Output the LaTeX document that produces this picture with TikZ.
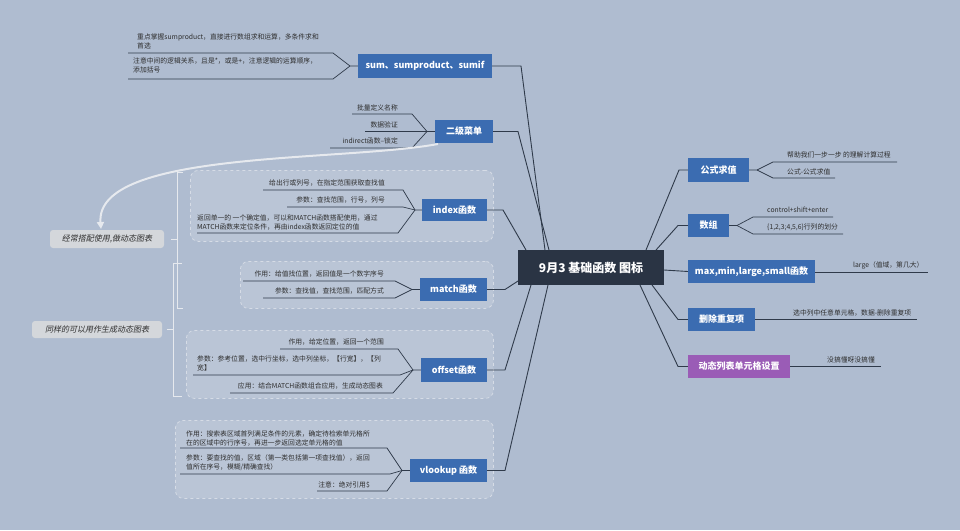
\documentclass[tikz,border=0pt]{standalone}
\usepackage{fontspec}
\setmainfont{Noto Sans CJK SC}
\newfontfamily\slfont[FakeSlant=0.2]{Noto Sans CJK SC}
\usetikzlibrary{arrows.meta}
\definecolor{bg}{HTML}{AFBCD0}
\definecolor{boxfill}{HTML}{BAC5D6}
\definecolor{boxedge}{HTML}{D6DCE6}
\definecolor{tblue}{HTML}{3B6CB1}
\definecolor{cdark}{HTML}{2A3444}
\definecolor{tpurple}{HTML}{9A5CB6}
\definecolor{lnc}{HTML}{2F3A4A}
\definecolor{txt}{HTML}{2E2E2E}
\definecolor{notefill}{HTML}{D4D7DB}
\definecolor{light}{HTML}{E6E9EE}
\begin{document}
\begin{tikzpicture}[x=1pt,y=-1pt,
  topic/.style={fill=tblue, text=white, font=\bfseries\fontsize{9}{10}\selectfont, inner sep=0pt, minimum height=23pt},
  leaf/.style={text=txt, font=\fontsize{6.8}{9}\selectfont, inner sep=0pt, align=left},
  ln/.style={draw=lnc, line width=0.9pt},
  ul/.style={draw=lnc, line width=0.7pt},
  dbox/.style={fill=boxfill, draw=boxedge, dashed, rounded corners=8pt, line width=0.8pt, inner sep=0pt},
  note/.style={fill=notefill, rounded corners=3pt, text=txt, font=\slfont\fontsize{8}{9}\selectfont, inner sep=0pt, minimum height=18pt},
  brk/.style={draw=light, line width=0.9pt}
]
\useasboundingbox[fill=bg] (0,0) rectangle (960,530);

% dashed group boxes
\node[dbox, anchor=north west, minimum width=303pt, minimum height=71pt] (bindex) at (190,170) {};
\node[dbox, anchor=north west, minimum width=253pt, minimum height=47pt] (bmatch) at (240,261) {};
\node[dbox, anchor=north west, minimum width=307pt, minimum height=68pt] (boffset) at (186,330) {};
\node[dbox, anchor=north west, minimum width=318pt, minimum height=78pt] (bvlookup) at (175,420) {};

% center
\node[fill=cdark, text=white, font=\bfseries\fontsize{12}{14}\selectfont, minimum width=146pt, minimum height=35pt, inner sep=0pt] (center) at (591,267.5) {9月3 基础函数 图标};

% left topics
\node[topic, minimum width=134pt, minimum height=24pt] (sum) at (425,66) {sum、sumproduct、sumif};
\node[topic, minimum width=58pt] (erji) at (464,131.5) {二级菜单};
\node[topic, minimum width=65pt, minimum height=22pt] (index) at (454.5,210) {index函数};
\node[topic, minimum width=67pt] (match) at (453.5,289.5) {match函数};
\node[topic, minimum width=66pt, minimum height=24pt] (offset) at (454,370) {offset函数};
\node[topic, minimum width=77pt] (vlookup) at (448.5,470.5) {vlookup 函数};

% right topics
\node[topic, minimum width=61pt, minimum height=24pt] (gongshi) at (718.5,170) {公式求值};
\node[topic, minimum width=41pt] (shuzu) at (708.5,225.5) {数组};
\node[topic, minimum width=127pt] (maxf) at (751.5,271.5) {max,min,large,small函数};
\node[topic, minimum width=67pt] (shanchu) at (721.5,319.5) {删除重复项};
\node[topic, fill=tpurple, minimum width=102pt] (dongtai) at (739,366.5) {动态列表单元格设置};

% main connectors left
\coordinate (kSum) at (521,66);   \coordinate (cSum) at (545,250);
\coordinate (kErji) at (518,131.5); \coordinate (cErji) at (549,250);
\coordinate (kIdx) at (503,210);  \coordinate (cIdx) at (526,250);
\coordinate (kMat) at (505,289.5); \coordinate (cMat) at (518,281);
\coordinate (kOff) at (505,370);  \coordinate (cOff) at (531,285);
\coordinate (kVl) at (505,470.5); \coordinate (cVl) at (548,285);
\draw[ln] (sum.east) -- (kSum) -- (cSum);
\draw[ln] (erji.east) -- (kErji) -- (cErji);
\draw[ln] (index.east) -- (kIdx) -- (cIdx);
\draw[ln] (match.east) -- (kMat) -- (cMat);
\draw[ln] (offset.east) -- (kOff) -- (cOff);
\draw[ln] (vlookup.east) -- (kVl) -- (cVl);

% main connectors right
\coordinate (kGs) at (679,170); \coordinate (cGs) at (646,250);
\coordinate (kSz) at (678,225.5); \coordinate (cSz) at (656,250);
\coordinate (cMax) at (664,270);
\coordinate (kSc) at (678,319.5); \coordinate (cSc) at (652,285);
\coordinate (kDt) at (678,366.5); \coordinate (cDt) at (640,285);
\draw[ln] (gongshi.west) -- (kGs) -- (cGs);
\draw[ln] (shuzu.west) -- (kSz) -- (cSz);
\draw[ln] (maxf.west) -- (cMax);
\draw[ln] (shanchu.west) -- (kSc) -- (cSc);
\draw[ln] (dongtai.west) -- (kDt) -- (cDt);

% ---- sum leaves
\coordinate (jSum) at (350,66);
\node[leaf, anchor=west] (s1) at (137,41.5) {重点掌握sumproduct，直接进行数组求和运算，多条件求和\\首选};
\node[leaf, anchor=west] (s2) at (133,65.5) {注意中间的逻辑关系，且是*，或是+，注意逻辑的运算顺序，\\添加括号};
\coordinate (s1a) at (128,53); \coordinate (s1b) at (333,53);
\coordinate (s2a) at (128,79); \coordinate (s2b) at (333,79);
\draw[ul] (s1a) -- (s1b) -- (jSum) -- (sum.west);
\draw[ul] (s2a) -- (s2b) -- (jSum);

% ---- erji leaves
\coordinate (jErji) at (427,131.5);
\node[leaf, anchor=east] (e1) at (398,108) {批量定义名称};
\node[leaf, anchor=east] (e2) at (398,124.5) {数据验证};
\node[leaf, anchor=east] (e3) at (398,141) {indirect函数--锁定};
\coordinate (e1a) at (352,114); \coordinate (e1b) at (412,114);
\coordinate (e2a) at (365,131.5); \coordinate (e2b) at (412,131.5);
\coordinate (e3a) at (330,148); \coordinate (e3b) at (412,148);
\draw[ul] (e1a) -- (e1b) -- (jErji) -- (erji.west);
\draw[ul] (e2a) -- (e2b) -- (jErji);
\draw[ul] (e3a) -- (e3b) -- (jErji);

% ---- index leaves
\coordinate (jIdx) at (415,210);
\node[leaf, anchor=east] (i1) at (385,183) {给出行或列号，在指定范围获取查找值};
\node[leaf, anchor=east] (i2) at (385,200) {参数：查找范围，行号，列号};
\node[leaf, anchor=west] (i3) at (197,222) {返回单一的 一个确定值，可以和MATCH函数搭配使用，通过\\MATCH函数来定位条件，再由index函数返回定位的值};
\coordinate (i1a) at (263,190); \coordinate (i1b) at (403,190);
\coordinate (i2a) at (287,207); \coordinate (i2b) at (403,207);
\coordinate (i3a) at (197,233); \coordinate (i3b) at (398,233);
\draw[ul] (i1a) -- (i1b) -- (jIdx) -- (index.west);
\draw[ul] (i2a) -- (i2b) -- (jIdx);
\draw[ul] (i3a) -- (i3b) -- (jIdx);

% ---- match leaves
\coordinate (jMat) at (412,289.5);
\node[leaf, anchor=east] (m1) at (384,273.5) {作用：给值找位置，返回值是一个数字序号};
\node[leaf, anchor=east] (m2) at (384,290.5) {参数：查找值，查找范围，匹配方式};
\coordinate (m1a) at (243,281); \coordinate (m1b) at (395,281);
\coordinate (m2a) at (263,298); \coordinate (m2b) at (395,298);
\draw[ul] (m1a) -- (m1b) -- (jMat) -- (match.west);
\draw[ul] (m2a) -- (m2b) -- (jMat);

% ---- offset leaves
\coordinate (jOff) at (413,370);
\node[leaf, anchor=east] (o1) at (384,342) {作用，给定位置，返回一个范围};
\node[leaf, anchor=west] (o2) at (197,363) {参数：参考位置，选中行坐标，选中列坐标，【行宽】，【列\\宽】};
\node[leaf, anchor=east] (o3) at (383,386) {应用：结合MATCH函数组合应用，生成动态图表};
\coordinate (o1a) at (280,349); \coordinate (o1b) at (398,349);
\coordinate (o2a) at (193,375); \coordinate (o2b) at (400,375);
\coordinate (o3a) at (230,393); \coordinate (o3b) at (393,393);
\draw[ul] (o1a) -- (o1b) -- (jOff) -- (offset.west);
\draw[ul] (o2a) -- (o2b) -- (jOff);
\draw[ul] (o3a) -- (o3b) -- (jOff);

% ---- vlookup leaves
\coordinate (jVl) at (402,470.5);
\node[leaf, anchor=west] (v1) at (186,438) {作用：搜索表区域首列满足条件的元素，确定待检索单元格所\\在的区域中的行序号，再进一步返回选定单元格的值};
\node[leaf, anchor=west] (v2) at (186,463) {参数：要查找的值，区域（第一类包括第一项查找值），返回\\值所在序号，模糊/精确查找）};
\node[leaf, anchor=east] (v3) at (370,485.5) {注意：绝对引用\$};
\coordinate (v1a) at (180,448); \coordinate (v1b) at (387,448);
\coordinate (v2a) at (180,474); \coordinate (v2b) at (390,474);
\coordinate (v3a) at (317,491); \coordinate (v3b) at (387,491);
\draw[ul] (v1a) -- (v1b) -- (jVl) -- (vlookup.west);
\draw[ul] (v2a) -- (v2b) -- (jVl);
\draw[ul] (v3a) -- (v3b) -- (jVl);

% ---- right leaves
\coordinate (jGs) at (757,170);
\node[leaf, anchor=west] (g1) at (787,154.5) {帮助我们一步一步 的理解计算过程};
\node[leaf, anchor=west] (g2) at (787,171.5) {公式-公式求值};
\coordinate (g1a) at (773,162); \coordinate (g1b) at (897,162);
\coordinate (g2a) at (773,178); \coordinate (g2b) at (835,178);
\draw[ul] (gongshi.east) -- (jGs) -- (g1a) -- (g1b);
\draw[ul] (jGs) -- (g2a) -- (g2b);

\coordinate (jSz) at (737,225.5);
\node[leaf, anchor=west] (z1) at (767,210) {control+shift+enter};
\node[leaf, anchor=west] (z2) at (767,227) {\{1,2,3;4,5,6\}行列的划分};
\coordinate (z1a) at (753,217); \coordinate (z1b) at (833,217);
\coordinate (z2a) at (753,234); \coordinate (z2b) at (843,234);
\draw[ul] (shuzu.east) -- (jSz) -- (z1a) -- (z1b);
\draw[ul] (jSz) -- (z2a) -- (z2b);

\node[leaf, anchor=west] (x1) at (853,265) {large（值域，第几大）};
\coordinate (x1b) at (928,272);
\draw[ul] (maxf.east) ++(0,0.5) -- (x1b);

\node[leaf, anchor=west] (d1) at (793,313) {选中列中任意单元格，数据-删除重复项};
\coordinate (d1b) at (917,319.5);
\draw[ul] (shanchu.east) -- (d1b);

\node[leaf, anchor=west] (t1) at (827,359.5) {没搞懂呀没搞懂};
\coordinate (t1b) at (881,366.5);
\draw[ul] (dongtai.east) -- (t1b);

% ---- summary notes and brackets
\node[note, minimum width=114pt] (note1) at (107,239) {经常搭配使用,做动态图表};
\node[note, minimum width=130pt, minimum height=17pt] (note2) at (97,329.5) {同样的可以用作生成动态图表};
\coordinate (b1t) at (183,172); \coordinate (b1tt) at (177,172);
\coordinate (b1b) at (183,308); \coordinate (b1bb) at (177,308);
\coordinate (b1m) at (177,239); \coordinate (b1n) at (171,239);
\draw[brk] (b1t) -- (b1tt) -- (b1bb) -- (b1b);
\draw[brk] (b1m) -- (b1n);
\coordinate (b2t) at (182,263); \coordinate (b2tt) at (173,263);
\coordinate (b2b) at (182,396); \coordinate (b2bb) at (173,396);
\coordinate (b2m) at (173,329.5); \coordinate (b2n) at (167,329.5);
\draw[brk] (b2t) -- (b2tt) -- (b2bb) -- (b2b);
\draw[brk] (b2m) -- (b2n);

% ---- curved arrow
\coordinate (cs) at (438,144);
\coordinate (ce) at (101,229);
\draw[draw=light, line width=2pt, -{Triangle[length=7pt,width=7pt]}] (cs) .. controls (340,162) and (95,150) .. (ce);
\end{tikzpicture}
\end{document}
